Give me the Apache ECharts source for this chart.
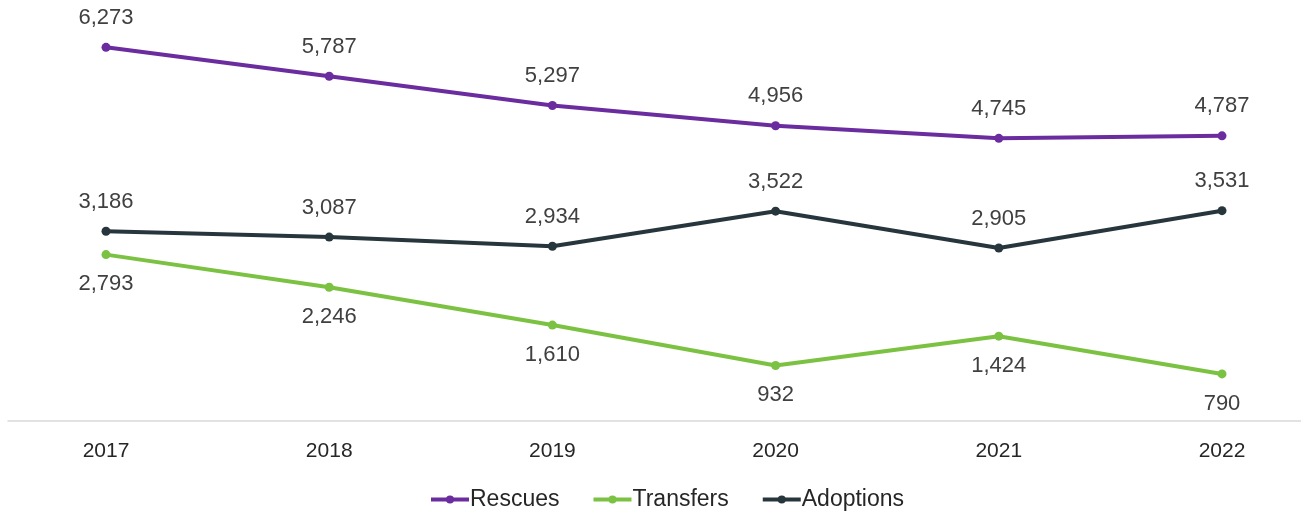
<!DOCTYPE html>
<html>
<head>
<meta charset="utf-8">
<script src="https://cdn.jsdelivr.net/npm/echarts@6/dist/echarts.min.js"></script>
<style>html,body{margin:0;padding:0;background:#fff}#c{width:1301px;height:512px}</style>
</head>
<body>
<div id="c"></div>
<script>
var years = ['2017','2018','2019','2020','2021','2022'];
var rescues = [6273, 5787, 5297, 4956, 4745, 4787];
var transfers = [2793, 2246, 1610, 932, 1424, 790];
var adoptions = [3186, 3087, 2934, 3522, 2905, 3531];

var FONT = '"Liberation Sans", Arial, sans-serif';
var chart = echarts.init(document.getElementById('c'));
function fmt(p){ return p.value.toLocaleString('en-US'); }
function line(name, data, color, pos){
  return {
    name: name, type: 'line', data: data, xAxisIndex: 0, yAxisIndex: 0,
    symbol: 'circle', symbolSize: 9, color: color,
    lineStyle: {width: 4, color: color},
    itemStyle: {color: color},
    label: {show: true, position: pos, distance: 14, formatter: fmt,
      fontFamily: FONT, fontSize: 22, color: '#404040'},
    z: 3
  };
}
chart.setOption({
  animation: false,
  textStyle: {fontFamily: FONT},
  grid: [
    {left: 106, right: 79, top: 4, bottom: 91},
    {left: 8, right: 0, top: 4, bottom: 91}
  ],
  xAxis: [
    {type: 'category', data: years, gridIndex: 0, boundaryGap: false,
     axisLine: {show: false}, axisTick: {show: false},
     axisLabel: {fontFamily: FONT, fontSize: 21, color: '#262626', margin: 20}},
    {type: 'category', data: years, gridIndex: 1,
     axisLine: {show: true, lineStyle: {color: '#d9d9d9', width: 1.5}},
     axisTick: {show: false}, axisLabel: {show: false}}
  ],
  yAxis: [
    {type: 'value', gridIndex: 0, min: 0, max: 7000, show: false, splitLine: {show: false}},
    {type: 'value', gridIndex: 1, min: 0, max: 7000, show: false, splitLine: {show: false}}
  ],
  legend: {
    top: 483, left: 424, itemGap: 32, itemWidth: 38, itemHeight: 10,
    lineStyle: {width: 4},
    textStyle: {fontFamily: FONT, fontSize: 23, color: '#262626', padding: [0,0,0,-4]},
    data: ['Rescues','Transfers','Adoptions']
  },
  series: [
    line('Rescues', rescues, '#6a2c9e', 'top'),
    line('Transfers', transfers, '#7cc242', 'bottom'),
    line('Adoptions', adoptions, '#27363d', 'top')
  ]
});
</script>
</body>
</html>
